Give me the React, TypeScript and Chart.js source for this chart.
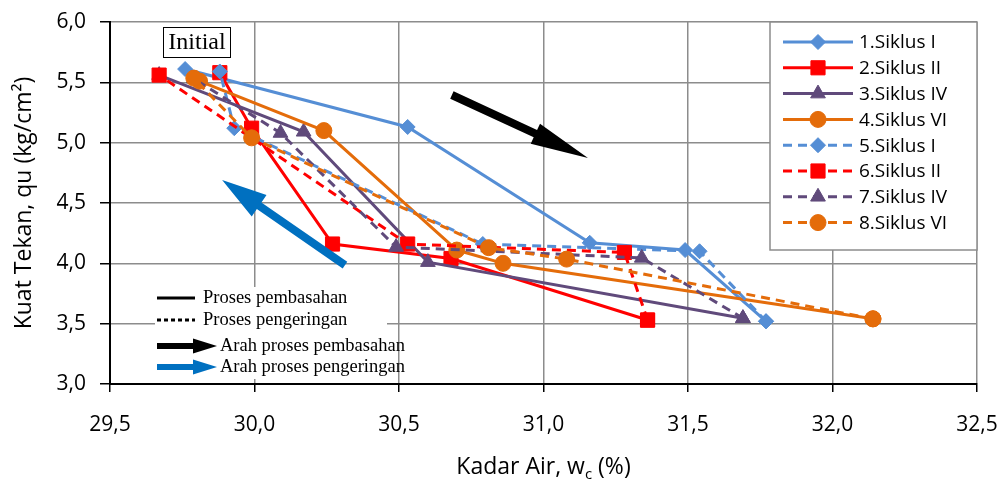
import React, { useEffect, useRef } from 'react';
import { Chart, registerables } from 'chart.js';
import { drawPoint } from 'chart.js/helpers';

Chart.register(...registerables);

// ---- data ----
const seriesNames = ['1.Siklus I', '2.Siklus II', '3.Siklus IV', '4.Siklus VI', '5.Siklus I', '6.Siklus II', '7.Siklus IV', '8.Siklus VI'];

const s1x = [29.76, 30.53, 31.16, 31.49, 31.77];
const s1y = [5.61, 5.13, 4.17, 4.11, 3.52];
const s2x = [29.88, 29.99, 30.27, 30.68, 31.36];
const s2y = [5.58, 5.12, 4.16, 4.04, 3.53];
const s3x = [29.67, 30.17, 30.6, 31.69];
const s3y = [5.56, 5.09, 4.01, 3.545];
const s4x = [29.81, 30.24, 30.7, 30.86, 32.14];
const s4y = [5.51, 5.1, 4.11, 4.0, 3.54];
const s5x = [31.77, 31.54, 30.79, 29.93, 29.88];
const s5y = [3.52, 4.1, 4.16, 5.12, 5.59];
const s6x = [31.36, 31.28, 30.53, 29.67];
const s6y = [3.53, 4.09, 4.16, 5.56];
const s7x = [31.69, 31.34, 30.49, 30.09, 29.79];
const s7y = [3.545, 4.045, 4.135, 5.08, 5.53];
const s8x = [32.14, 31.08, 30.81, 29.99, 29.79];
const s8y = [3.54, 4.035, 4.13, 5.04, 5.535];

const seriesX = [s1x, s2x, s3x, s4x, s5x, s6x, s7x, s8x];
const seriesY = [s1y, s2y, s3y, s4y, s5y, s6y, s7y, s8y];

const xTicks = [29.5, 30.0, 30.5, 31.0, 31.5, 32.0, 32.5];
const yTicks = [3.0, 3.5, 4.0, 4.5, 5.0, 5.5, 6.0];

const noteTexts = ['Proses pembasahan', 'Proses pengeringan', 'Arah proses pembasahan', 'Arah proses pengeringan'];

// ---- styles ----
const BLUE = '#558ED5';
const RED = '#FF0000';
const PURPLE = '#604A7B';
const ORANGE = '#E46C0A';
const colors = [BLUE, RED, PURPLE, ORANGE, BLUE, RED, PURPLE, ORANGE];
const styles = ['rectRot', 'rect', 'triangle', 'circle', 'rectRot', 'rect', 'triangle', 'circle'];
const radii: Record<string, number> = { rectRot: 7.5, rect: 10, triangle: 8.5, circle: 8 };
const DASH = [9, 6];
const GRID = '#8c8c8c';
const SANS = '"Open Sans", sans-serif';
const SERIF = '"Liberation Serif", "Times New Roman", serif';

function fmt(v: number) {
  return v.toFixed(1).replace('.', ',');
}

function arrow(ctx: CanvasRenderingContext2D, x1: number, y1: number, x2: number, y2: number,
  shaft: number, headLen: number, headW: number, color: string) {
  const dx = x2 - x1, dy = y2 - y1;
  const len = Math.hypot(dx, dy);
  const ux = dx / len, uy = dy / len;
  const px = -uy, py = ux;
  const bx = x2 - ux * headLen, by = y2 - uy * headLen;
  ctx.save();
  ctx.fillStyle = color;
  ctx.beginPath();
  ctx.moveTo(x1 + px * shaft / 2, y1 + py * shaft / 2);
  ctx.lineTo(bx + px * shaft / 2, by + py * shaft / 2);
  ctx.lineTo(bx + px * headW / 2, by + py * headW / 2);
  ctx.lineTo(x2, y2);
  ctx.lineTo(bx - px * headW / 2, by - py * headW / 2);
  ctx.lineTo(bx - px * shaft / 2, by - py * shaft / 2);
  ctx.lineTo(x1 - px * shaft / 2, y1 - py * shaft / 2);
  ctx.closePath();
  ctx.fill();
  ctx.restore();
}

const decor = {
  id: 'decor',
  afterDraw(chart: any) {
    const ctx: CanvasRenderingContext2D = chart.ctx;
    const ca = chart.chartArea;
    const sx = chart.scales.x;
    const sy = chart.scales.y;
    ctx.save();

    // axis titles
    ctx.fillStyle = '#000';
    ctx.font = `23px ${SANS}`;
    ctx.textAlign = 'center';
    ctx.textBaseline = 'middle';
    ctx.save();
    ctx.translate(24, (ca.top + ca.bottom) / 2);
    ctx.rotate(-Math.PI / 2);
    ctx.fillText('Kuat Tekan, qu (kg/cm²)', 0, 0);
    ctx.restore();

    const p1 = 'Kadar Air, w';
    const p2 = 'c';
    const p3 = ' (%)';
    ctx.textAlign = 'left';
    ctx.textBaseline = 'alphabetic';
    ctx.font = `23px ${SANS}`;
    const w1 = ctx.measureText(p1).width;
    const w3 = ctx.measureText(p3).width;
    ctx.font = `15px ${SANS}`;
    const w2 = ctx.measureText(p2).width;
    const total = w1 + w2 + w3;
    let tx = (ca.left + ca.right) / 2 - total / 2;
    const tb = ca.bottom + 90;
    ctx.font = `23px ${SANS}`;
    ctx.fillText(p1, tx, tb);
    tx += w1;
    ctx.font = `15px ${SANS}`;
    ctx.fillText(p2, tx, tb + 5);
    tx += w2;
    ctx.font = `23px ${SANS}`;
    ctx.fillText(p3, tx, tb);

    // series legend
    const lx0 = ca.right - 207;
    const ly0 = ca.top;
    ctx.fillStyle = '#fff';
    ctx.fillRect(lx0, ly0, 207, 228);
    ctx.strokeStyle = GRID;
    ctx.lineWidth = 1.5;
    ctx.strokeRect(lx0, ly0, 207, 228);
    ctx.font = `19px ${SANS}`;
    ctx.textBaseline = 'middle';
    ctx.textAlign = 'left';
    for (let i = 0; i < seriesNames.length; i++) {
      const yy = ly0 + 20 + i * 25.8;
      ctx.save();
      ctx.strokeStyle = colors[i];
      ctx.lineWidth = 3;
      ctx.setLineDash(i >= 4 ? DASH : []);
      ctx.beginPath();
      ctx.moveTo(lx0 + 13, yy);
      ctx.lineTo(lx0 + 83, yy);
      ctx.stroke();
      ctx.setLineDash([]);
      ctx.fillStyle = colors[i];
      ctx.strokeStyle = colors[i];
      ctx.lineWidth = 1;
      drawPoint(ctx, { pointStyle: styles[i], rotation: 0, radius: radii[styles[i]], borderWidth: 1 } as any, lx0 + 48, yy);
      ctx.restore();
      ctx.fillStyle = '#000';
      ctx.fillText(seriesNames[i], lx0 + 89, yy + 1);
    }

    // notes box (lower-left)
    const nx = ca.left + 45;
    const ny = ca.bottom - 97;
    ctx.fillStyle = '#fff';
    ctx.fillRect(nx, ny, 232, 92);
    ctx.fillStyle = '#000';
    ctx.font = `18.5px ${SERIF}`;
    ctx.textBaseline = 'middle';
    const rows = [ny + 11, ny + 33, ny + 59, ny + 80];
    ctx.fillText(noteTexts[0], nx + 48, rows[0]);
    ctx.fillText(noteTexts[1], nx + 48, rows[1]);
    ctx.fillText(noteTexts[2], nx + 65, rows[2]);
    ctx.fillText(noteTexts[3], nx + 65, rows[3]);
    ctx.strokeStyle = '#000';
    ctx.lineWidth = 3;
    ctx.beginPath();
    ctx.moveTo(nx + 2, rows[0]);
    ctx.lineTo(nx + 40, rows[0]);
    ctx.stroke();
    ctx.setLineDash([4, 3]);
    ctx.beginPath();
    ctx.moveTo(nx + 2, rows[1]);
    ctx.lineTo(nx + 40, rows[1]);
    ctx.stroke();
    ctx.setLineDash([]);
    arrow(ctx, nx + 2, rows[2], nx + 62, rows[2], 6, 24, 15, '#000');
    arrow(ctx, nx + 2, rows[3], nx + 62, rows[3], 6, 24, 15, '#0070C0');

    // big arrows (placed in data space)
    arrow(ctx, sx.getPixelForValue(30.683), sy.getPixelForValue(5.395),
      sx.getPixelForValue(31.154), sy.getPixelForValue(4.872), 8, 58, 22, '#000');
    arrow(ctx, sx.getPixelForValue(30.313), sy.getPixelForValue(3.985),
      sx.getPixelForValue(29.888), sy.getPixelForValue(4.69), 8, 45, 26, '#0070C0');

    // Initial label
    const ix = ca.left + 53;
    const iy = ca.top + 5;
    ctx.fillStyle = '#fff';
    ctx.fillRect(ix, iy, 67, 30);
    ctx.strokeStyle = '#000';
    ctx.lineWidth = 1;
    ctx.strokeRect(ix + 0.5, iy + 0.5, 67, 30);
    ctx.fillStyle = '#000';
    ctx.font = `24px ${SERIF}`;
    ctx.textAlign = 'center';
    ctx.textBaseline = 'middle';
    ctx.fillText('Initial', ix + 34, iy + 16);

    ctx.restore();
  },
};

export default function App() {
  const ref = useRef<HTMLCanvasElement | null>(null);
  useEffect(() => {
    if (!ref.current) return;
    const datasets = seriesNames.map((name, i) => ({
      label: name,
      data: seriesX[i].map((x, j) => ({ x, y: seriesY[i][j] })),
      showLine: true,
      borderColor: colors[i],
      backgroundColor: colors[i],
      borderWidth: 3,
      borderDash: i >= 4 ? DASH : [],
      pointStyle: styles[i],
      pointRadius: radii[styles[i]],
      pointHoverRadius: radii[styles[i]],
      pointBorderWidth: 1,
      pointBorderColor: colors[i],
      pointBackgroundColor: colors[i],
      tension: 0,
      order: seriesNames.length - i,
    }));
    const chart = new Chart(ref.current, {
      type: 'scatter',
      data: { datasets },
      options: {
        animation: false,
        responsive: false,
        maintainAspectRatio: false,
        layout: { padding: { top: 22, right: 26, left: 0, bottom: 0 } },
        plugins: { legend: { display: false }, tooltip: { enabled: false } },
        scales: {
          x: {
            type: 'linear',
            min: 29.5,
            max: 32.5,
            afterBuildTicks: (s: any) => { s.ticks = xTicks.map((v) => ({ value: v })); },
            afterFit: (s: any) => { s.height = 99; s.paddingLeft = 0; s.paddingRight = 0; },
            ticks: {
              callback: (v: any) => fmt(Number(v)),
              font: { family: SANS, size: 21 },
              color: '#000',
              padding: 20,
              maxRotation: 0,
            },
            grid: { color: GRID, lineWidth: 1.5, tickLength: 8, tickColor: '#000', tickWidth: 1.5 },
            border: { color: '#000', width: 2 },
          },
          y: {
            type: 'linear',
            min: 3,
            max: 6,
            afterBuildTicks: (s: any) => { s.ticks = yTicks.map((v) => ({ value: v })); },
            afterFit: (s: any) => { s.width = 110; s.paddingTop = 0; s.paddingBottom = 0; },
            ticks: {
              callback: (v: any) => fmt(Number(v)),
              font: { family: SANS, size: 21 },
              color: '#000',
              padding: 14,
            },
            grid: { color: GRID, lineWidth: 1.5, tickLength: 10, tickColor: '#000', tickWidth: 1.5 },
            border: { color: '#000', width: 2 },
          },
        },
      },
      plugins: [decor],
    } as any);
    return () => chart.destroy();
  }, []);
  return (
    <div style={{ position: 'fixed', left: 0, top: 0, width: 1003, height: 483, background: '#fff' }}>
      <canvas ref={ref} width={1003} height={483} style={{ width: 1003, height: 483 }} />
    </div>
  );
}
